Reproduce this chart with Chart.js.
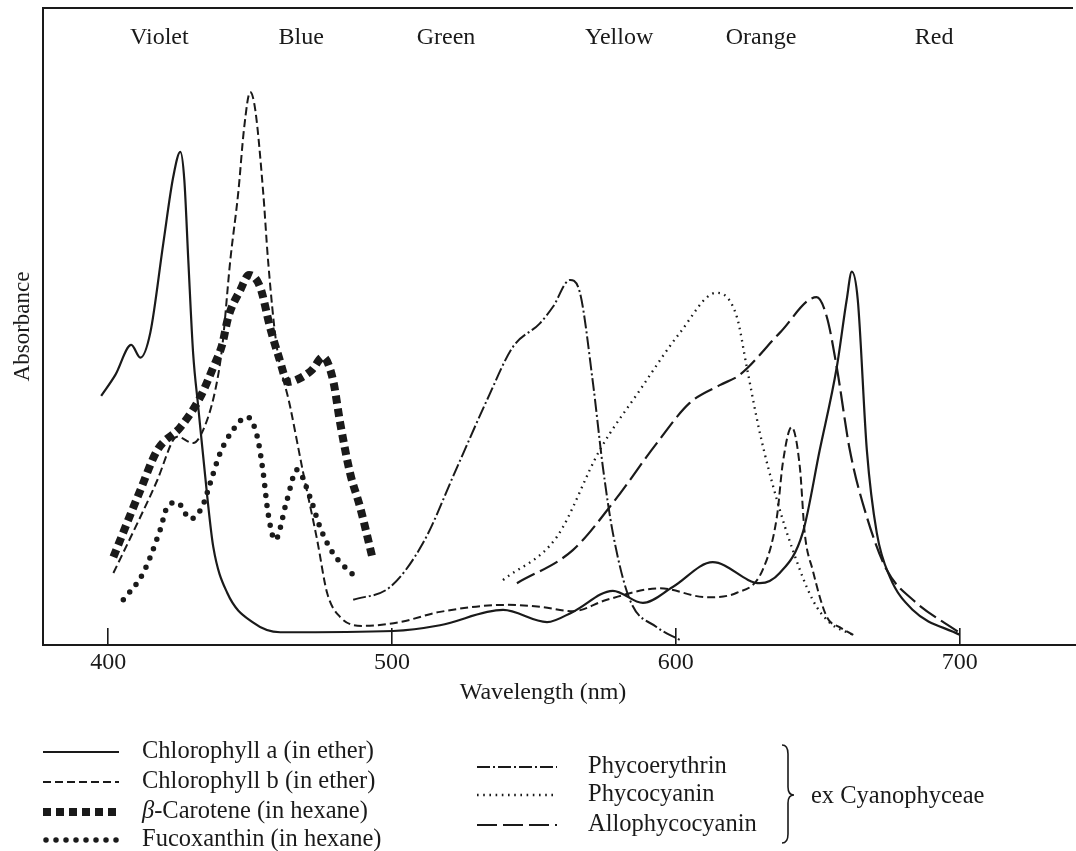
<!DOCTYPE html>
<html>
<head>
<meta charset="utf-8">
<script src="https://cdn.jsdelivr.net/npm/chart.js@4.4.1/dist/chart.umd.min.js"></script>
<style>
  html, body { margin: 0; padding: 0; background: #fff; }
  #wrap { width: 1076px; height: 851px; position: relative; }
</style>
</head>
<body>
<div id="wrap"><canvas id="spectra"></canvas></div>
<script>
// wavelength (nm) and relative absorbance
const chlaNm  = [397.5, 402.5, 408.1, 411.3, 414.8, 419.4, 422.9, 425.4, 426.8, 428.2, 429.9, 431.7, 434.9, 437.0, 441.9, 451.1, 460.6, 500.4, 516.9, 539.1, 554.6, 563.7, 577.8, 588.4, 598.9, 613.0, 629.6, 636.6, 644.7, 650.7, 656.7, 660.2, 662.0, 664.1, 667.3, 670.8, 675.4, 683.5, 700.0];
const chlaAbs = [0.391, 0.424, 0.471, 0.451, 0.490, 0.631, 0.735, 0.774, 0.730, 0.604, 0.458, 0.374, 0.232, 0.154, 0.082, 0.035, 0.020, 0.022, 0.031, 0.055, 0.036, 0.052, 0.085, 0.066, 0.091, 0.130, 0.097, 0.113, 0.176, 0.306, 0.436, 0.542, 0.586, 0.542, 0.306, 0.176, 0.107, 0.055, 0.016];

const chlbNm  = [401.8, 411.3, 417.3, 422.9, 424.3, 429.9, 433.5, 437.7, 440.1, 443.0, 445.8, 447.9, 450.0, 451.8, 454.6, 456.3, 459.2, 464.1, 468.7, 473.6, 477.1, 481.7, 489.8, 502.8, 516.9, 540.5, 552.1, 563.7, 575.7, 594.4, 610.9, 621.5, 630.6, 635.6, 637.7, 640.8, 643.7, 645.4, 648.2, 653.2, 657.7, 663.7];
const chlbAbs = [0.113, 0.201, 0.259, 0.322, 0.327, 0.317, 0.338, 0.400, 0.466, 0.604, 0.710, 0.813, 0.868, 0.840, 0.710, 0.604, 0.474, 0.374, 0.270, 0.165, 0.082, 0.044, 0.030, 0.036, 0.052, 0.063, 0.060, 0.053, 0.071, 0.089, 0.075, 0.082, 0.118, 0.201, 0.286, 0.342, 0.279, 0.176, 0.118, 0.044, 0.028, 0.013];

const caroNm  = [401.8, 411.3, 417.3, 425.4, 432.4, 437.0, 440.1, 442.3, 446.5, 449.6, 453.5, 457.0, 459.9, 463.4, 467.6, 471.8, 475.7, 479.2, 481.7, 485.2, 488.7, 493.3];
const caroAbs = [0.138, 0.243, 0.306, 0.342, 0.389, 0.436, 0.471, 0.515, 0.557, 0.581, 0.562, 0.499, 0.455, 0.413, 0.419, 0.432, 0.452, 0.416, 0.349, 0.270, 0.217, 0.133];

const fucoNm  = [405.3, 412.3, 418.3, 420.8, 424.3, 428.9, 433.1, 435.9, 439.4, 444.0, 448.9, 452.5, 454.6, 456.3, 458.8, 463.0, 466.5, 471.1, 474.6, 479.2, 487.0];
const fucoAbs = [0.071, 0.113, 0.181, 0.217, 0.224, 0.198, 0.217, 0.254, 0.301, 0.338, 0.358, 0.327, 0.270, 0.207, 0.165, 0.228, 0.275, 0.232, 0.185, 0.144, 0.107];

const pheNm  = [486.3, 499.3, 510.9, 522.9, 533.5, 542.6, 552.1, 556.7, 562.7, 566.2, 570.8, 574.3, 577.8, 583.8, 593.3, 601.4];
const pheAbs = [0.071, 0.091, 0.160, 0.279, 0.385, 0.468, 0.505, 0.531, 0.573, 0.553, 0.411, 0.279, 0.176, 0.071, 0.028, 0.008];

const pcNm  = [539.1, 558.1, 573.2, 587.3, 601.4, 614.4, 621.5, 625.0, 629.6, 635.6, 641.2, 648.2, 654.2, 662.3];
const pcAbs = [0.102, 0.170, 0.306, 0.400, 0.490, 0.553, 0.515, 0.436, 0.333, 0.228, 0.149, 0.071, 0.035, 0.016];

const apcNm  = [544.0, 563.7, 577.8, 593.3, 604.9, 615.5, 622.5, 636.6, 649.6, 653.2, 656.7, 661.3, 667.3, 674.3, 683.5, 700.0];
const apcAbs = [0.097, 0.149, 0.223, 0.317, 0.380, 0.408, 0.424, 0.490, 0.546, 0.515, 0.436, 0.306, 0.201, 0.118, 0.071, 0.019];

const tickNm = [400, 500, 600, 700];
const bandNames = ['Violet', 'Blue', 'Green', 'Yellow', 'Orange', 'Red'];
const bandNm = [418, 468, 519, 580, 630, 691];

const ink = '#1a1a1a';
const serif = '"Liberation Serif", "Times New Roman", serif';

function pts(xs, ys) {
    return xs.map((x, i) => ({ x: x, y: ys[i] }));
}

function line(label, xs, ys, width, dash, cap) {
    return {
        label: label,
        data: pts(xs, ys),
        borderColor: ink,
        borderWidth: width,
        borderDash: dash,
        borderCapStyle: cap || 'butt',
        pointRadius: 0,
        fill: false,
        cubicInterpolationMode: 'monotone'
    };
}

const datasets = [
    line('Chlorophyll a (in ether)', chlaNm, chlaAbs, 2.2, []),
    line('Chlorophyll b (in ether)', chlbNm, chlbAbs, 2, [8, 4]),
    line('β-Carotene (in hexane)', caroNm, caroAbs, 8, [8, 5]),
    line('Fucoxanthin (in hexane)', fucoNm, fucoAbs, 5.5, [0, 10], 'round'),
    line('Phycoerythrin', pheNm, pheAbs, 2, [13, 3, 2, 3]),
    line('Phycocyanin', pcNm, pcAbs, 2.3, [1.6, 4.6]),
    line('Allophycocyanin', apcNm, apcAbs, 2.2, [20, 6])
];

// frame top, colour bands, axis title, legend and brace
const extras = {
    id: 'extras',
    afterDraw(chart) {
        const ctx = chart.ctx;
        const area = chart.chartArea;
        const xs = chart.scales.x;
        const ds = chart.data.datasets;
        ctx.save();

        // top frame line
        ctx.strokeStyle = ink;
        ctx.lineWidth = 2;
        ctx.beginPath();
        ctx.moveTo(area.left, area.top);
        ctx.lineTo(1073, area.top);
        ctx.stroke();

        ctx.fillStyle = ink;
        ctx.textBaseline = 'middle';

        // spectral band names
        ctx.font = '24px ' + serif;
        ctx.textAlign = 'center';
        bandNames.forEach((name, i) => {
            ctx.fillText(name, xs.getPixelForValue(bandNm[i]), 38);
        });

        // x axis title
        ctx.font = '24px ' + serif;
        ctx.fillText('Wavelength (nm)', 543, 693);

        // legend
        ctx.textAlign = 'left';
        const rows = [
            { i: 0, x0: 43, x1: 119, tx: 142, y: 752 },
            { i: 1, x0: 43, x1: 119, tx: 142, y: 782 },
            { i: 2, x0: 43, x1: 119, tx: 142, y: 812 },
            { i: 3, x0: 46, x1: 119, tx: 142, y: 840 },
            { i: 4, x0: 477, x1: 557, tx: 588, y: 767 },
            { i: 5, x0: 477, x1: 557, tx: 588, y: 795 },
            { i: 6, x0: 477, x1: 557, tx: 588, y: 825 }
        ];
        const legendFont = '24.5px ' + serif;
        rows.forEach(r => {
            const d = ds[r.i];
            ctx.save();
            ctx.strokeStyle = d.borderColor;
            ctx.lineWidth = d.borderWidth;
            ctx.setLineDash(d.borderDash);
            ctx.lineCap = d.borderCapStyle;
            ctx.beginPath();
            ctx.moveTo(r.x0, r.y);
            ctx.lineTo(r.x1, r.y);
            ctx.stroke();
            ctx.restore();

            let label = d.label;
            let tx = r.tx;
            if (label.charAt(0) === 'β') {
                ctx.font = 'italic ' + legendFont;
                ctx.fillText('β', tx, r.y);
                tx += ctx.measureText('β').width;
                label = label.slice(1);
            }
            ctx.font = legendFont;
            ctx.fillText(label, tx, r.y);
        });

        // brace for the phycobilins
        const bx = 782, top = 745, mid = 795, bot = 843, w = 6;
        ctx.lineWidth = 1.6;
        ctx.beginPath();
        ctx.moveTo(bx, top);
        ctx.quadraticCurveTo(bx + w, top, bx + w, top + 9);
        ctx.lineTo(bx + w, mid - 8);
        ctx.quadraticCurveTo(bx + w, mid, bx + 2 * w, mid);
        ctx.quadraticCurveTo(bx + w, mid, bx + w, mid + 8);
        ctx.lineTo(bx + w, bot - 9);
        ctx.quadraticCurveTo(bx + w, bot, bx, bot);
        ctx.stroke();
        ctx.font = legendFont;
        ctx.fillText('ex Cyanophyceae', 811, 797);

        ctx.restore();
    }
};

document.addEventListener('DOMContentLoaded', function () {
    const ctx = document.getElementById('spectra').getContext('2d');

    new Chart(ctx, {
        type: 'line',
        data: { datasets: datasets },
        plugins: [extras],
        options: {
            responsive: true,
            maintainAspectRatio: false,
            animation: false,
            layout: { padding: { top: 8, right: 0, left: 0, bottom: 0 } },
            plugins: {
                legend: { display: false },
                tooltip: { enabled: false }
            },
            scales: {
                x: {
                    type: 'linear',
                    min: 377,
                    max: 741,
                    afterBuildTicks: s => { s.ticks = tickNm.map(v => ({ value: v })); },
                    afterFit: s => { s.height = 206; },
                    grid: {
                        display: true,
                        drawOnChartArea: false,
                        drawTicks: true,
                        tickLength: -17,
                        color: ink,
                        lineWidth: 1.6
                    },
                    border: { display: true, color: ink, width: 2 },
                    ticks: {
                        color: ink,
                        padding: 20,
                        font: { family: serif, size: 24 },
                        maxRotation: 0
                    }
                },
                y: {
                    type: 'linear',
                    min: 0,
                    max: 1,
                    afterFit: s => { s.width = 43; },
                    grid: { display: false },
                    border: { display: true, color: ink, width: 2 },
                    ticks: { display: false },
                    title: {
                        display: true,
                        text: 'Absorbance',
                        color: ink,
                        font: { family: serif, size: 23 },
                        padding: { top: 9, bottom: 0 }
                    }
                }
            }
        }
    });
});
</script>
</body>
</html>
